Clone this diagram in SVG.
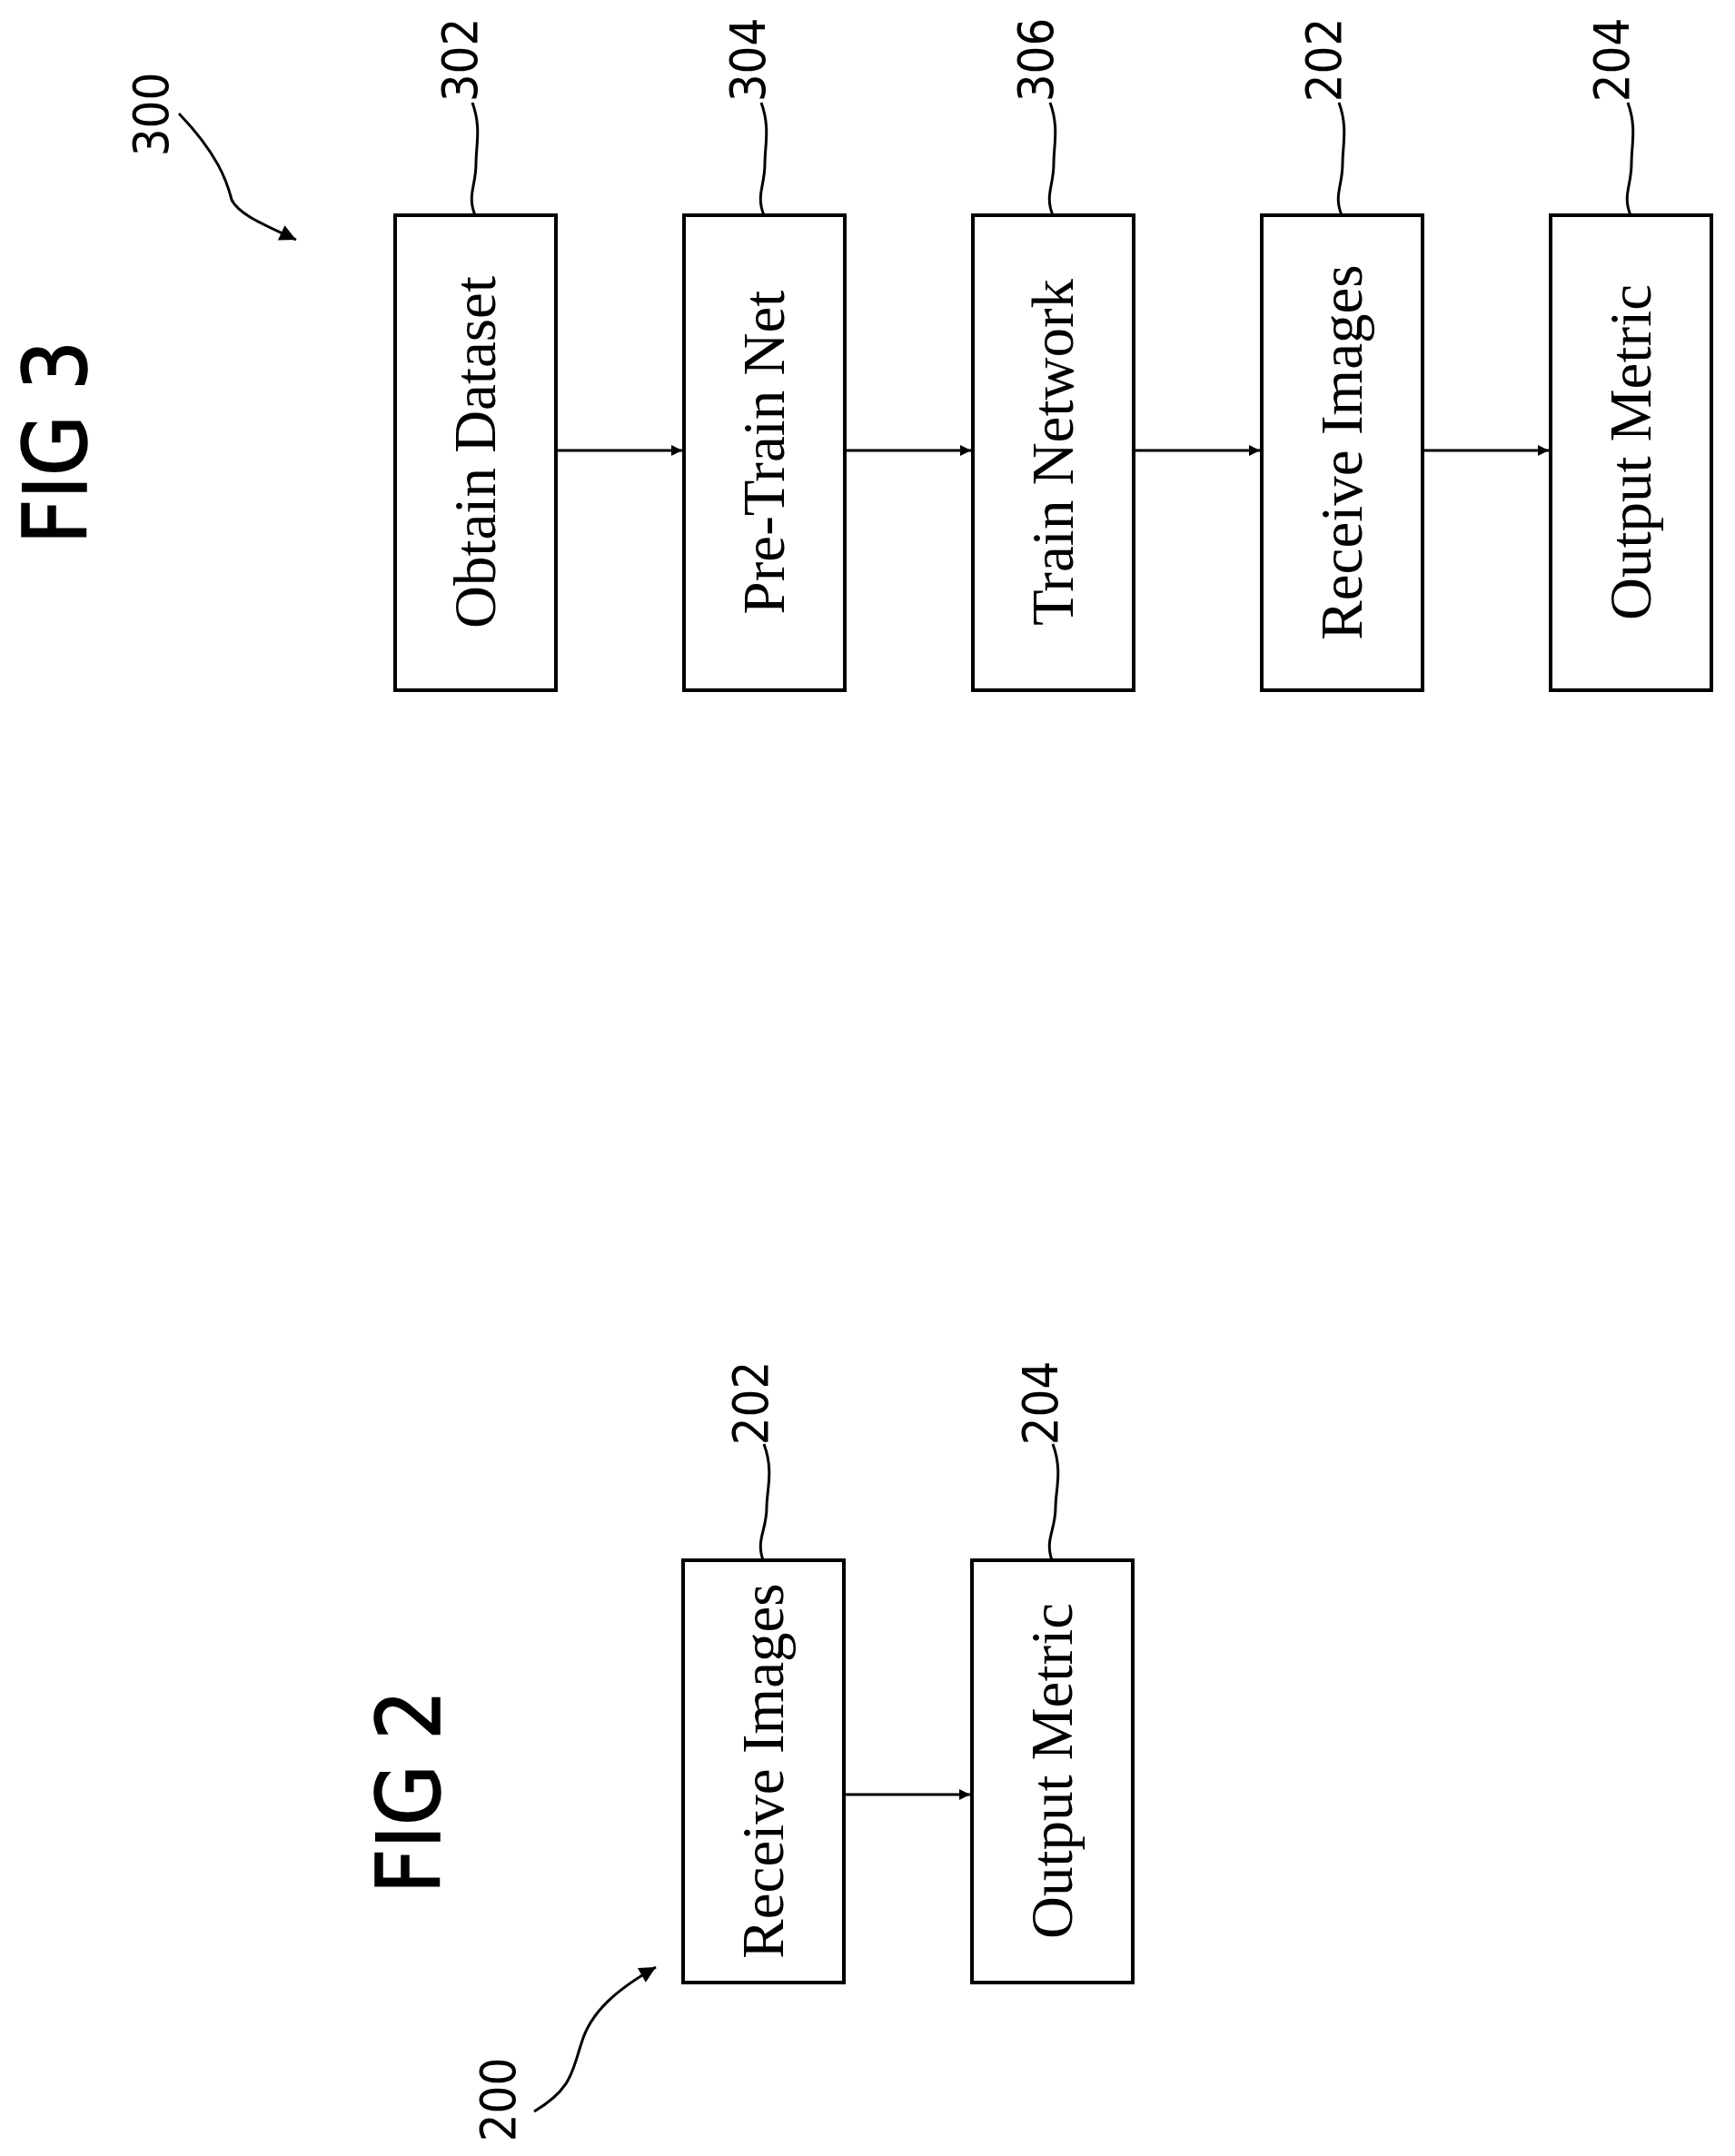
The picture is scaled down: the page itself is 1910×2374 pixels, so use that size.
<svg xmlns="http://www.w3.org/2000/svg" width="1910" height="2374" viewBox="0 0 1910 2374">
<style>
.box{fill:#fff;stroke:#000;stroke-width:4}
.bt{font-family:"Liberation Serif",serif;font-size:65px;text-anchor:middle;dominant-baseline:central}
.lb{font-family:"DejaVu Sans Condensed","Liberation Sans",sans-serif;font-size:54px;text-anchor:middle;dominant-baseline:central}
.fig{font-family:"DejaVu Sans Condensed","Liberation Sans",sans-serif;font-size:96px;text-anchor:middle;dominant-baseline:central;stroke:#000;stroke-width:1.5}
.ln{fill:none;stroke:#000;stroke-width:3}
</style>
<defs>
<marker id="ah" viewBox="0 0 10 10" refX="10" refY="5" markerWidth="20" markerHeight="12" markerUnits="userSpaceOnUse" orient="auto"><path d="M0,0 L10,5 L0,10 z"/></marker>
<marker id="ah2" viewBox="0 0 10 10" refX="10" refY="5" markerWidth="34" markerHeight="18" markerUnits="userSpaceOnUse" orient="auto"><path d="M0,0 L10,5 L0,10 z"/></marker>
</defs>
<g id="fig3-title"><text class="fig" transform="translate(62,487) rotate(-90)">FIG 3</text></g>
<g id="fig2-title"><text class="fig" transform="translate(451,1973) rotate(-90)">FIG 2</text></g>
<g id="n302"><rect class="box" x="435" y="237" width="177" height="523"/><text class="bt" transform="translate(523,498) rotate(-90)">Obtain Dataset</text><text class="lb" transform="translate(506,66) rotate(-90)">302</text></g>
<g id="n304"><rect class="box" x="753" y="237" width="177" height="523"/><text class="bt" transform="translate(841,498) rotate(-90)">Pre-Train Net</text><text class="lb" transform="translate(823,66) rotate(-90)">304</text></g>
<g id="n306"><rect class="box" x="1071" y="237" width="177" height="523"/><text class="bt" transform="translate(1159,498) rotate(-90)">Train Network</text><text class="lb" transform="translate(1140,66) rotate(-90)">306</text></g>
<g id="n202b"><rect class="box" x="1389" y="237" width="177" height="523"/><text class="bt" transform="translate(1477,498) rotate(-90)">Receive Images</text><text class="lb" transform="translate(1457,66) rotate(-90)">202</text></g>
<g id="n204b"><rect class="box" x="1707" y="237" width="177" height="523"/><text class="bt" transform="translate(1795,498) rotate(-90)">Output Metric</text><text class="lb" transform="translate(1774,66) rotate(-90)">204</text></g>
<g id="n202"><rect class="box" x="752" y="1718" width="177" height="465"/><text class="bt" transform="translate(840,1950) rotate(-90)">Receive Images</text><text class="lb" transform="translate(826,1545) rotate(-90)">202</text></g>
<g id="n204"><rect class="box" x="1070" y="1718" width="177" height="465"/><text class="bt" transform="translate(1158,1950) rotate(-90)">Output Metric</text><text class="lb" transform="translate(1145,1545) rotate(-90)">204</text></g>
<g id="ref300"><text class="lb" transform="translate(166,126) rotate(-90)">300</text></g>
<g id="ref200"><text class="lb" transform="translate(548,2312) rotate(-90)">200</text></g>
<g id="connectors">
<line class="ln" x1="612" y1="496" x2="751" y2="496" marker-end="url(#ah)"/>
<line class="ln" x1="930" y1="496" x2="1069" y2="496" marker-end="url(#ah)"/>
<line class="ln" x1="1248" y1="496" x2="1387" y2="496" marker-end="url(#ah)"/>
<line class="ln" x1="1566" y1="496" x2="1705" y2="496" marker-end="url(#ah)"/>
<line class="ln" x1="929" y1="1976" x2="1068" y2="1976" marker-end="url(#ah)"/>
<path class="ln" d="M520,113 C530,140 524,160 524,180 C524,205 514,215 523,237"/>
<path class="ln" d="M838,113 C848,140 842,160 842,180 C842,205 832,215 841,237"/>
<path class="ln" d="M1156,113 C1166,140 1160,160 1160,180 C1160,205 1150,215 1159,237"/>
<path class="ln" d="M1474,113 C1484,140 1478,160 1478,180 C1478,205 1468,215 1477,237"/>
<path class="ln" d="M1792,113 C1802,140 1796,160 1796,180 C1796,205 1786,215 1795,237"/>
<path class="ln" d="M841,1590 C852,1620 844,1640 844,1660 C844,1685 832,1695 840,1718"/>
<path class="ln" d="M1159,1590 C1170,1620 1162,1640 1162,1660 C1162,1685 1150,1695 1158,1718"/>
<path class="ln" d="M197,125 C240,170 250,200 255,220 C262,235 285,245 326,264" marker-end="url(#ah2)"/>
<path class="ln" d="M588,2325 C630,2300 630,2280 640,2250 C650,2215 680,2190 722,2166" marker-end="url(#ah2)"/>
</g>
</svg>
